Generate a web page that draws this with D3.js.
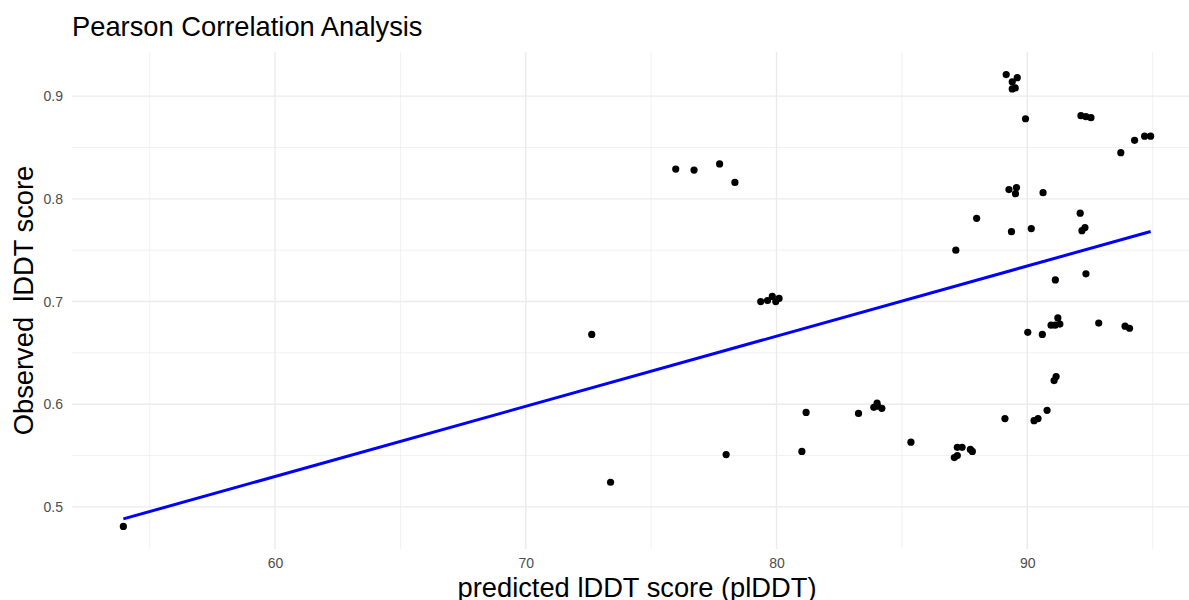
<!DOCTYPE html>
<html><head><meta charset="utf-8">
<script src="https://cdn.jsdelivr.net/npm/d3@7"></script>
<style>
html,body{margin:0;padding:0;background:#fff;}
svg text{font-family:"Liberation Sans",Arial,Helvetica,sans-serif;}
</style></head>
<body><div id="chart"></div>
<script>
const titleText = "Pearson Correlation Analysis";
const xLabel = "predicted lDDT score (plDDT)";
const yLabel = "Observed  lDDT score";
const xTicks = [60, 70, 80, 90];
const yTicks = [0.5, 0.6, 0.7, 0.8, 0.9];
const plddt = [53.95,73.38,72.63,75.98,76.71,77.73,78.34,79.37,79.64,79.83,79.97,80.10,77.99,81.01,81.18,83.27,83.88,84.01,84.20,84.03,85.36,87.09,87.21,87.21,87.40,87.73,87.81,89.11,90.27,90.43,90.79,91.07,91.15,87.15,87.98,89.37,90.16,92.11,92.18,92.30,91.12,92.34,90.02,90.60,90.95,91.11,91.22,91.30,92.85,93.90,94.08,89.16,89.60,89.40,89.40,89.52,89.93,92.14,92.34,92.54,94.28,93.73,94.68,94.92,89.27,89.57,89.53,90.63];
const lddt = [0.481,0.524,0.668,0.829,0.828,0.834,0.816,0.700,0.701,0.705,0.700,0.703,0.551,0.554,0.592,0.591,0.597,0.601,0.596,0.598,0.563,0.548,0.550,0.558,0.558,0.556,0.554,0.586,0.584,0.586,0.594,0.623,0.627,0.750,0.781,0.768,0.771,0.786,0.769,0.772,0.721,0.727,0.670,0.668,0.677,0.677,0.684,0.678,0.679,0.676,0.674,0.921,0.918,0.914,0.907,0.908,0.878,0.881,0.880,0.879,0.857,0.845,0.861,0.861,0.809,0.811,0.805,0.806];
// linear fit (lm)
const fitSlope = 0.006832;
const fitIntercept = 0.11971;

const W = 1189, H = 600;
const panel = {left: 72, right: 1202, top: 52, bottom: 549};

const svg = d3.select("#chart").append("svg").attr("width", W).attr("height", H);

const points = plddt.map((x, i) => ({x, y: lddt[i]}));
const xExt = d3.extent(plddt), yExt = d3.extent(lddt);
const xPad = (xExt[1]-xExt[0])*0.05, yPad = (yExt[1]-yExt[0])*0.05;
const x = d3.scaleLinear().domain([xExt[0]-xPad, xExt[1]+xPad]).range([panel.left, panel.right]);
const y = d3.scaleLinear().domain([yExt[0]-yPad, yExt[1]+yPad]).range([panel.bottom, panel.top]);

const g = svg.append("g");
// minor grid
const xMinor = d3.range(55, 100, 10).filter(v => v >= x.domain()[0] && v <= x.domain()[1]);
const yMinor = d3.range(0.45, 1.0, 0.1).filter(v => v >= y.domain()[0] && v <= y.domain()[1]);
g.selectAll(".xminor").data(xMinor).join("line")
  .attr("x1", d => x(d)).attr("x2", d => x(d)).attr("y1", panel.top).attr("y2", panel.bottom)
  .attr("stroke", "#ebebeb").attr("stroke-width", 0.7);
g.selectAll(".yminor").data(yMinor).join("line")
  .attr("y1", d => y(d)).attr("y2", d => y(d)).attr("x1", panel.left).attr("x2", panel.right)
  .attr("stroke", "#ebebeb").attr("stroke-width", 0.7);
// major grid
g.selectAll(".xmajor").data(xTicks).join("line")
  .attr("x1", d => x(d)).attr("x2", d => x(d)).attr("y1", panel.top).attr("y2", panel.bottom)
  .attr("stroke", "#ebebeb").attr("stroke-width", 1.4);
g.selectAll(".ymajor").data(yTicks).join("line")
  .attr("y1", d => y(d)).attr("y2", d => y(d)).attr("x1", panel.left).attr("x2", panel.right)
  .attr("stroke", "#ebebeb").attr("stroke-width", 1.4);

// axes via d3 axis
const xAxis = svg.append("g").attr("transform", `translate(0,${panel.bottom})`)
  .call(d3.axisBottom(x).tickValues(xTicks).tickSize(0).tickPadding(9).tickFormat(d3.format("d")));
const yAxis = svg.append("g").attr("transform", `translate(${panel.left},0)`)
  .call(d3.axisLeft(y).tickValues(yTicks).tickSize(0).tickPadding(9).tickFormat(d3.format(".1f")));
[xAxis, yAxis].forEach(a => {
  a.select(".domain").remove();
  a.selectAll("text").attr("fill", "#4d4d4d").style("font-size", "14px")
   .style("font-family", '"Liberation Sans",Arial,sans-serif');
});

// points
svg.append("g").selectAll("circle").data(points).join("circle")
  .attr("cx", d => x(d.x)).attr("cy", d => y(d.y)).attr("r", 3.6).attr("fill", "#000");

// linear regression line over the data range
const fit = xExt.map(v => ({x: v, y: fitIntercept + fitSlope*v}));
svg.append("path").datum(fit)
  .attr("d", d3.line().x(d => x(d.x)).y(d => y(d.y)))
  .attr("fill", "none").attr("stroke", "#0000ff").attr("stroke-width", 3);

// titles
svg.append("text").attr("x", 72).attr("y", 36).text(titleText)
  .attr("fill", "#000").style("font-size", "27.3px");
svg.append("text").attr("x", (panel.left+panel.right)/2).attr("y", 596.5).attr("text-anchor", "middle")
  .text(xLabel).attr("fill", "#000").style("font-size", "27.3px");
svg.append("text").attr("transform", `translate(33,${(panel.top+panel.bottom)/2}) rotate(-90)`)
  .attr("text-anchor", "middle").text(yLabel).attr("fill", "#000").style("font-size", "27.3px")
  .style("white-space", "pre");
</script></body></html>
